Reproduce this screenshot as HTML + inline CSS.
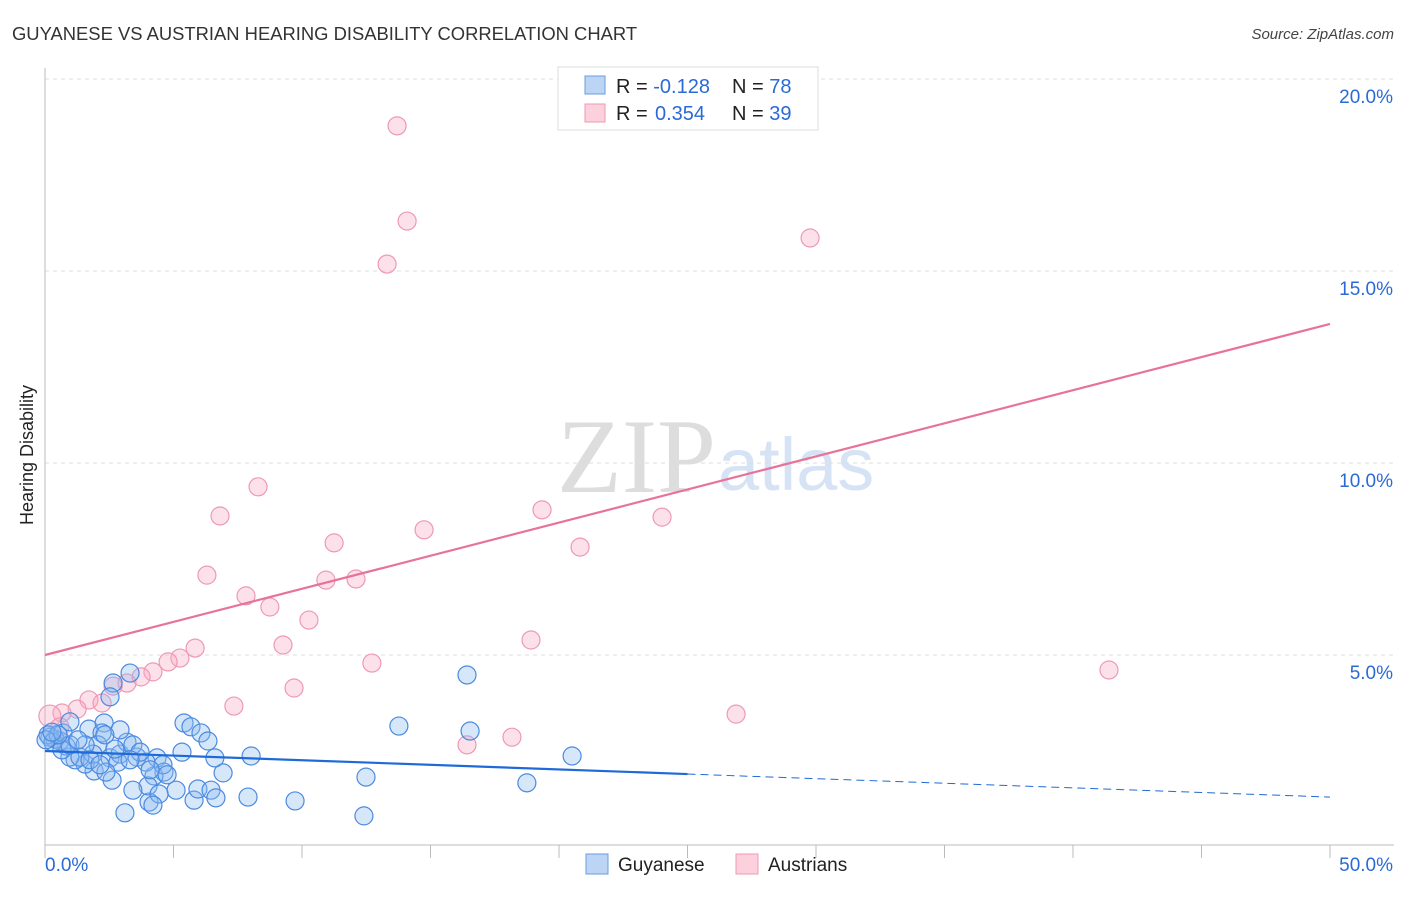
<!DOCTYPE html>
<html><head><meta charset="utf-8"><style>
body{margin:0;background:#fff;font-family:"Liberation Sans",sans-serif}
</style></head><body>
<svg id="chart" width="1406" height="892" font-family="Liberation Sans, sans-serif">
<text x="12" y="40" font-size="18.4" fill="#333">GUYANESE VS AUSTRIAN HEARING DISABILITY CORRELATION CHART</text>
<text x="1394" y="39" font-size="15" fill="#444" font-style="italic" text-anchor="end">Source: ZipAtlas.com</text>
<text x="716" y="492" font-size="106" fill="#ddd" text-anchor="end" font-family="Liberation Serif, serif">ZIP</text>
<text x="718" y="490" font-size="74" fill="#d5e3f5">atlas</text>
<text transform="translate(33,455) rotate(-90)" font-size="18" fill="#222" text-anchor="middle">Hearing Disability</text>
<g id="grid"></g><g id="axes"></g><g id="pts"></g><g id="lines"></g>
<g>
<rect x="558" y="67" width="260" height="63" fill="#fff" stroke="#ddd"/>
<rect x="585" y="76" width="20" height="18" fill="#bcd5f5" stroke="#6a9de0"/>
<rect x="585" y="104" width="20" height="18" fill="#fcd0dc" stroke="#ee99b2"/>
<text x="616" y="93" font-size="20" fill="#222">R = <tspan fill="#2a6ad6">-0.128</tspan><tspan x="732">N = </tspan><tspan fill="#2a6ad6">78</tspan></text>
<text x="616" y="120" font-size="20" fill="#222">R = <tspan fill="#2a6ad6" x="655">0.354</tspan><tspan x="732">N = </tspan><tspan fill="#2a6ad6">39</tspan></text>
</g>
<g>
<rect x="586" y="854" width="22" height="20" fill="#bcd5f5" stroke="#6a9de0"/>
<text x="618" y="871" font-size="19" fill="#222">Guyanese</text>
<rect x="736" y="854" width="22" height="20" fill="#fcd0dc" stroke="#ee99b2"/>
<text x="768" y="871" font-size="19" fill="#222">Austrians</text>
</g>
</svg>
<script>
const blueX=[3.31,2.65,2.53,16.42,13.77,16.54,20.51,12.49,18.75,12.41,9.73,3.11,4.05,5.41,5.68,6.07,6.34,6.93,6.61,8.02,5.33,4.36,4.63,4.24,4.01,3.42,2.61,1.91,1.56,1.17,0.97,0.82,0.58,0.39,0.19,0.12,0.31,0.70,0.97,1.71,2.30,2.22,2.06,1.87,2.53,2.92,3.19,3.58,3.93,4.59,5.10,5.80,5.95,6.46,6.65,7.90,4.44,4.20,2.84,2.37,1.36,0.66,0.97,1.56,1.28,2.92,3.42,3.70,4.75,2.33,0.51,0.04,0.27,1.75,2.14,4.09,3.31,2.72];
const blueY=[4.53,4.27,3.91,4.48,3.15,3.02,2.37,1.82,1.67,0.81,1.20,0.89,1.17,3.23,3.13,2.97,2.76,1.93,2.32,2.37,2.47,2.32,1.95,1.85,1.59,1.48,1.74,1.98,2.16,2.27,2.34,2.63,2.76,2.81,2.86,2.92,2.73,2.97,3.26,3.07,3.23,2.97,2.66,2.42,2.32,2.42,2.73,2.34,2.21,2.14,1.48,1.22,1.51,1.48,1.28,1.30,1.38,1.09,2.21,1.95,2.34,2.53,2.66,2.66,2.79,3.05,2.66,2.47,1.88,2.92,2.92,2.79,2.99,2.27,2.14,2.01,2.27,2.55];
const pinkX=[13.70,14.09,13.31,29.77,8.29,6.81,14.75,19.34,24.01,11.25,20.82,6.30,10.93,12.10,7.82,8.75,10.27,9.26,18.91,5.84,5.25,4.79,4.20,3.74,3.19,2.65,1.71,2.22,1.25,0.66,0.19,9.69,12.72,7.35,41.40,26.89,18.17,16.42,0.58];
const pinkY=[18.78,16.30,15.18,15.86,9.38,8.62,8.26,8.78,8.59,7.92,7.81,7.08,6.95,6.98,6.54,6.25,5.91,5.26,5.39,5.18,4.92,4.82,4.56,4.43,4.27,4.19,3.83,3.75,3.59,3.49,3.41,4.14,4.79,3.67,4.61,3.46,2.86,2.66,3.13];
const yTicks=[5,10,15,20];
const xTickLabels=["0.0%","50.0%"];
const blueTrend=[2.50,1.30];
const pinkTrend=[5.0,13.62];
const NS="http://www.w3.org/2000/svg";
const X=v=>45+v/50*1285, Y=v=>847-v/5*192;
function mk(p,t,a){const e=document.createElementNS(NS,t);for(const k in a)e.setAttribute(k,a[k]);document.getElementById(p).appendChild(e);return e;}
yTicks.forEach(t=>{
 const g=mk('grid','line',{x1:45,x2:1394,y1:Y(t),y2:Y(t),stroke:'#ddd','stroke-dasharray':'4,4'});
 
 
 const l=mk('grid','text',{x:1393,y:Y(t)+24,'font-size':19,fill:'#2a6ad6','text-anchor':'end'});
 l.textContent=t.toFixed(1)+'%';
 
 
});
const ax=mk('axes','line',{x1:45,x2:45,y1:68,y2:845,stroke:'#bbb'});


const bx=mk('axes','line',{x1:45,x2:1394,y1:845,y2:845,stroke:'#bbb'});


for(let i=0;i<=10;i++){
 const t=mk('axes','line',{x1:X(i*5),x2:X(i*5),y1:845,y2:858,stroke:'#bbb'});
 
 
}
xTickLabels.forEach((s,i)=>{
 const l=mk('axes','text',{x:i?1393:45,y:871,'font-size':19,fill:'#2a6ad6','text-anchor':i?'end':'start'});
 l.textContent=s;
 
 
});
pinkX.forEach((v,i)=>{
 const c=mk('pts','circle',{cx:X(v),cy:Y(pinkY[i]),r:(i==30?11:9),fill:'rgba(248,170,195,0.35)',stroke:'#ee99b2','stroke-width':1.2});
 
 
});
blueX.forEach((v,i)=>{
 const c=mk('pts','circle',{cx:X(v),cy:Y(blueY[i]),r:9,fill:'rgba(140,185,240,0.35)',stroke:'#4a8ae0','stroke-width':1.2});
 
 
});
const pl=mk('lines','line',{x1:X(0),y1:Y(pinkTrend[0]),x2:X(50),y2:Y(pinkTrend[1]),stroke:'#e8739a','stroke-width':2.2});


const bm=blueTrend[0]+(blueTrend[1]-blueTrend[0])*0.5;
const b1=mk('lines','line',{x1:X(0),y1:Y(blueTrend[0]),x2:X(25),y2:Y(bm),stroke:'#1f6ad8','stroke-width':2.2});


const b2=mk('lines','line',{x1:X(25),y1:Y(bm),x2:X(50),y2:Y(blueTrend[1]),stroke:'#1f6ad8','stroke-width':1,'stroke-dasharray':'8,5'});


</script>
</body></html>
